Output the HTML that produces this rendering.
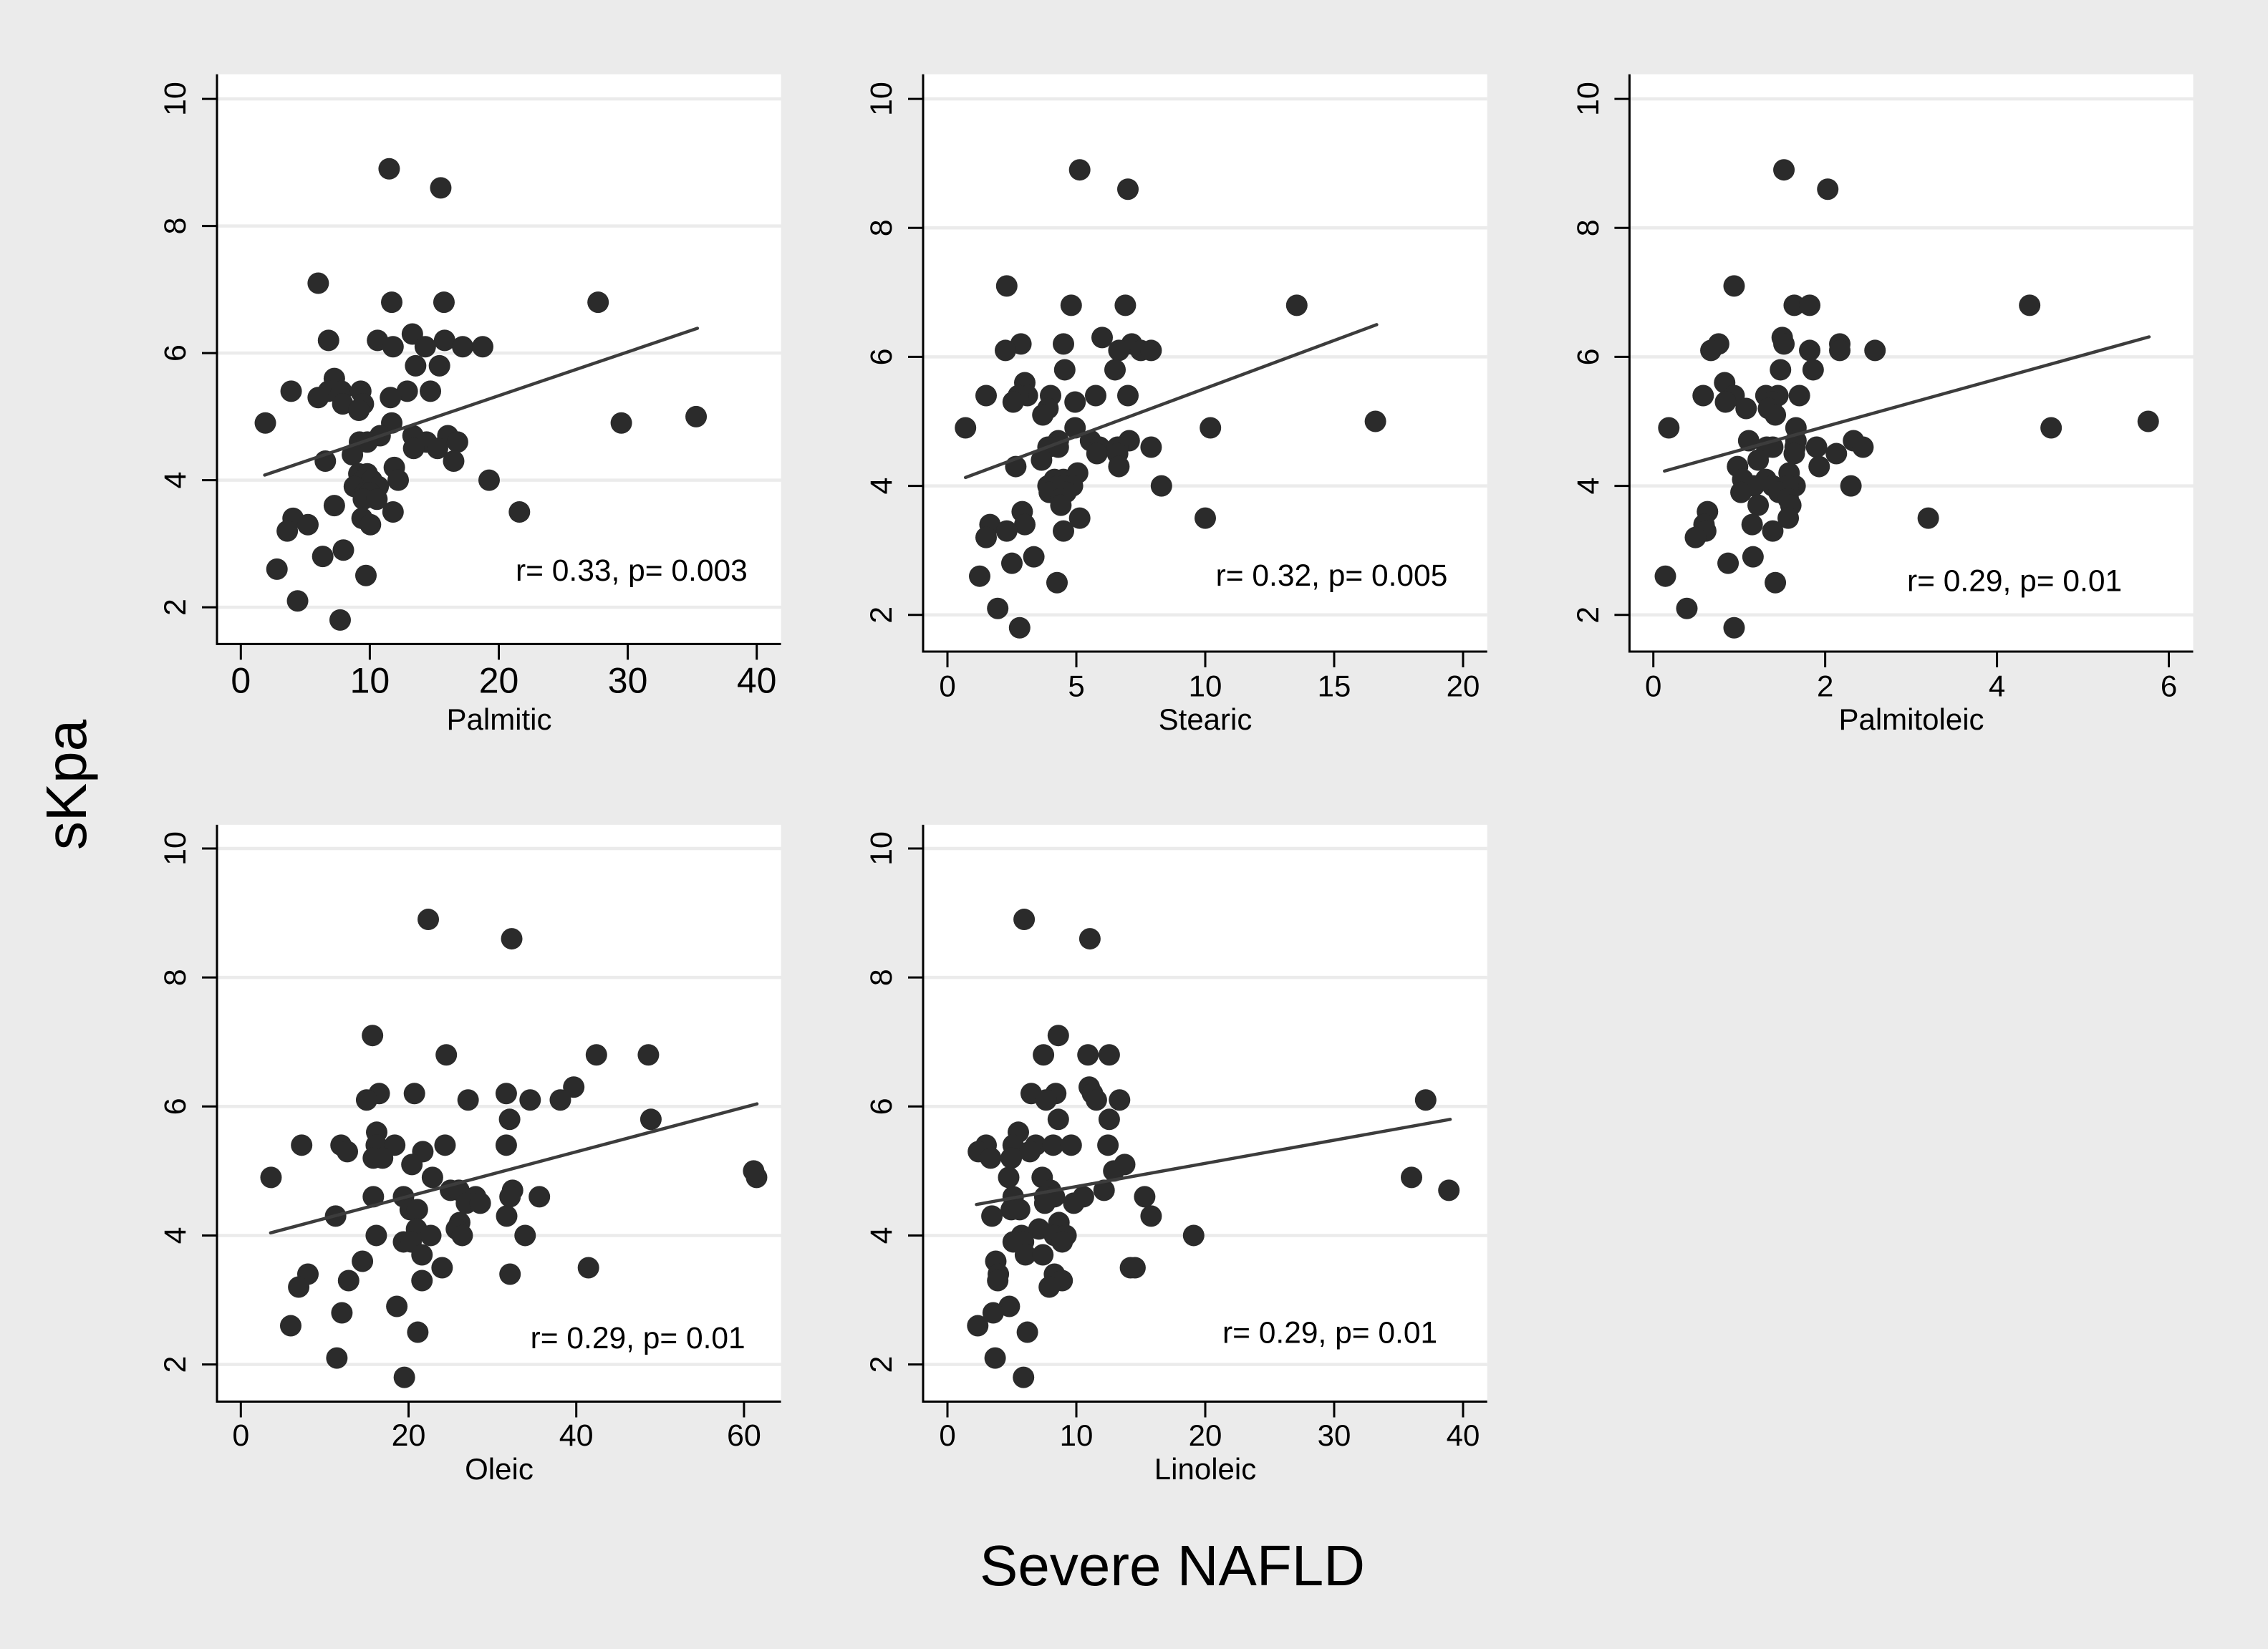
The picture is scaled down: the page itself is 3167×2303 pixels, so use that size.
<!DOCTYPE html>
<html lang="en">
<head>
<meta charset="utf-8">
<title>sKpa vs Severe NAFLD fatty acids</title>
<style>
html,body{margin:0;padding:0;background:#ebebeb;}
svg{display:block;font-family:"Liberation Sans",Arial,sans-serif;}
</style>
</head>
<body>
<svg id="chart" xmlns="http://www.w3.org/2000/svg" width="3167" height="2303" viewBox="0 0 3167 2303">
<rect x="0" y="0" width="3167" height="2303" fill="#ebebeb"/>
<text transform="translate(120,1096) rotate(-90)" text-anchor="middle" font-size="80" fill="#000">sKpa</text>
<text x="1637" y="2214" text-anchor="middle" font-size="80" fill="#000">Severe NAFLD</text>
</svg>
<script>
var yTickValues = [2, 4, 6, 8, 10];

var palmiticX = [11.5,15.5,6.0,11.7,15.75,27.7,13.3,6.8,10.6,15.8,11.8,14.3,17.2,18.75,13.55,15.4,7.25,3.9,6.8,7.8,9.3,12.9,14.7,6.0,11.6,7.9,9.5,9.15,1.9,11.7,29.5,35.3,10.8,13.35,16.05,9.2,9.8,14.4,16.8,13.4,15.25,8.65,6.55,16.5,11.9,9.15,9.8,19.25,12.2,9.5,10.15,8.8,10.65,9.65,10,9.5,10.55,7.25,11.8,21.6,4.05,9.4,5.2,10.05,3.6,7.95,6.35,2.8,9.7,4.4,7.7];
var palmiticY = [8.9,8.6,7.1,6.8,6.8,6.8,6.3,6.2,6.2,6.2,6.1,6.1,6.1,6.1,5.8,5.8,5.6,5.4,5.4,5.4,5.4,5.4,5.4,5.3,5.3,5.2,5.2,5.1,4.9,4.9,4.9,5.0,4.7,4.7,4.7,4.6,4.6,4.6,4.6,4.5,4.5,4.4,4.3,4.3,4.2,4.1,4.1,4.0,4.0,4.0,4.0,3.9,3.9,3.8,3.8,3.7,3.7,3.6,3.5,3.5,3.4,3.4,3.3,3.3,3.2,2.9,2.8,2.6,2.5,2.1,1.8];
var palmiticFitX = [1.85, 35.4];
var palmiticFitY = [4.08, 6.39];
var palmiticTicks = [0, 10, 20, 30, 40];

var stearicX = [5.13,7.0,2.3,4.8,6.9,13.55,6.0,2.85,4.5,7.15,2.25,6.65,7.5,7.9,4.55,6.5,3.0,1.5,3.1,2.75,4.0,5.75,7.0,2.55,4.95,3.9,3.7,0.7,4.95,10.2,16.6,4.3,5.55,7.05,3.9,4.3,5.9,6.6,7.9,5.8,6.6,3.65,2.65,6.65,5.05,4.15,4.5,3.9,4.3,4.85,8.3,4.5,3.95,4.6,4.4,4.4,2.9,5.13,10.0,1.65,3.0,2.3,4.5,1.5,3.35,2.5,1.25,4.25,1.95,2.8];
var stearicY = [8.9,8.6,7.1,6.8,6.8,6.8,6.3,6.2,6.2,6.2,6.1,6.1,6.1,6.1,5.8,5.8,5.6,5.4,5.4,5.4,5.4,5.4,5.4,5.3,5.3,5.2,5.1,4.9,4.9,4.9,5.0,4.7,4.7,4.7,4.6,4.6,4.6,4.6,4.6,4.5,4.5,4.4,4.3,4.3,4.2,4.1,4.1,4.0,4.0,4.0,4.0,4.0,3.9,3.9,3.8,3.7,3.6,3.5,3.5,3.4,3.4,3.3,3.3,3.2,2.9,2.8,2.6,2.5,2.1,1.8];
var stearicFitX = [0.7, 16.65];
var stearicFitY = [4.13, 6.5];
var stearicTicks = [0, 5, 10, 15, 20];

var palmitoleicX = [1.52,2.03,0.94,1.64,1.82,4.38,1.5,0.76,1.52,2.17,0.67,1.82,2.17,2.58,1.48,1.86,0.83,0.58,0.94,1.31,1.45,1.7,0.84,1.38,1.08,1.34,1.42,0.18,1.66,4.63,5.76,1.11,2.33,1.66,1.32,1.39,1.65,1.9,2.44,1.64,2.13,1.22,0.98,1.93,1.58,1.04,1.31,1.17,1.39,1.65,2.3,1.57,1.02,1.46,1.57,1.22,1.6,0.63,1.57,3.2,0.59,1.15,0.61,1.39,0.49,1.16,0.87,0.14,1.42,0.39,0.94];
var palmitoleicY = [8.9,8.6,7.1,6.8,6.8,6.8,6.3,6.2,6.2,6.2,6.1,6.1,6.1,6.1,5.8,5.8,5.6,5.4,5.4,5.4,5.4,5.4,5.3,5.3,5.2,5.2,5.1,4.9,4.9,4.9,5.0,4.7,4.7,4.7,4.6,4.6,4.6,4.6,4.6,4.5,4.5,4.4,4.3,4.3,4.2,4.1,4.1,4.0,4.0,4.0,4.0,4.0,3.9,3.9,3.8,3.7,3.7,3.6,3.5,3.5,3.4,3.4,3.3,3.3,3.2,2.9,2.8,2.6,2.5,2.1,1.8];
var palmitoleicFitX = [0.13, 5.77];
var palmitoleicFitY = [4.23, 6.31];
var palmitoleicTicks = [0, 2, 4, 6];

var oleicX = [22.35,32.3,15.7,24.5,42.4,48.6,39.7,16.5,20.7,31.65,15,27.1,34.5,38.1,32.05,48.9,16.2,7.25,11.95,16.15,18.35,24.35,31.65,12.7,21.7,15.8,16.9,20.4,3.6,22.85,61.5,61.15,25,26,32.4,15.8,19.4,28,32.1,35.6,26.9,28.55,20.2,21.05,11.3,31.7,26.1,20.95,25.7,16.15,22.65,26.4,33.9,19.4,20.3,21.6,14.5,24,41.45,8,32.1,12.85,21.6,6.9,18.6,12.05,5.95,21.1,11.45,19.5];
var oleicY = [8.9,8.6,7.1,6.8,6.8,6.8,6.3,6.2,6.2,6.2,6.1,6.1,6.1,6.1,5.8,5.8,5.6,5.4,5.4,5.4,5.4,5.4,5.4,5.3,5.3,5.2,5.2,5.1,4.9,4.9,4.9,5.0,4.7,4.7,4.7,4.6,4.6,4.6,4.6,4.6,4.5,4.5,4.4,4.4,4.3,4.3,4.2,4.1,4.1,4.0,4.0,4.0,4.0,3.9,3.9,3.7,3.6,3.5,3.5,3.4,3.4,3.3,3.3,3.2,2.9,2.8,2.6,2.5,2.1,1.8];
var oleicFitX = [3.55, 61.55];
var oleicFitY = [4.04, 6.04];
var oleicTicks = [0, 20, 40, 60];

var linoleicX = [5.95,11.05,8.6,7.45,10.9,12.55,11,6.5,8.4,11.25,7.65,11.55,13.35,37.1,8.6,12.55,5.5,3,5.1,6.85,8.2,9.6,12.45,2.4,6.4,3.35,4.95,13.75,12.9,4.75,7.35,36,38.9,8,12.15,5.1,7.55,8.3,10.55,15.3,7.55,9.8,4.95,5.6,3.45,15.8,8.65,7.1,5.75,8.3,9.2,19.1,5.1,5.9,8.9,6.05,7.4,3.75,14.2,14.55,3.95,8.3,3.9,8.9,7.9,4.8,3.55,2.35,6.2,3.7,5.9];
var linoleicY = [8.9,8.6,7.1,6.8,6.8,6.8,6.3,6.2,6.2,6.2,6.1,6.1,6.1,6.1,5.8,5.8,5.6,5.4,5.4,5.4,5.4,5.4,5.4,5.3,5.3,5.2,5.2,5.1,5.0,4.9,4.9,4.9,4.7,4.7,4.7,4.6,4.6,4.6,4.6,4.6,4.5,4.5,4.4,4.4,4.3,4.3,4.2,4.1,4.0,4.0,4.0,4.0,3.9,3.9,3.9,3.7,3.7,3.6,3.5,3.5,3.4,3.4,3.3,3.3,3.2,2.9,2.8,2.6,2.5,2.1,1.8];
var linoleicFitX = [2.25, 39];
var linoleicFitY = [4.48, 5.8];
var linoleicTicks = [0, 10, 20, 30, 40];

var NS = 'http://www.w3.org/2000/svg';
var svg = document.getElementById('chart');

function make(tag, attrs, parent) {
  var el = document.createElementNS(NS, tag);
  for (var k in attrs) el.setAttribute(k, attrs[k]);
  parent.appendChild(el);
  return el;
}

var panels = [
  {key:'palmitic', title:'Palmitic', note:'r= 0.33, p= 0.003', xs:palmiticX, ys:palmiticY, fx:palmiticFitX, fy:palmiticFitY, ticks:palmiticTicks,
   left:303, right:1090.6, top:103.75, bottom:899.4, x0:336.3, xUnit:18.01, y2:848.1, yUnit:88.75,
   tickFont:50, tickBase:967.5, yLabelX:259, titleX:697, titleY:1019, noteX:720, noteY:811},
  {key:'stearic', title:'Stearic', note:'r= 0.32, p= 0.005', xs:stearicX, ys:stearicY, fx:stearicFitX, fy:stearicFitY, ticks:stearicTicks,
   left:1289, right:2076.7, top:103.75, bottom:910, x0:1323, xUnit:36, y2:858.75, yUnit:90.08,
   tickFont:42, tickBase:972.5, yLabelX:1245, titleX:1683, titleY:1019, noteX:1697.6, noteY:818},
  {key:'palmitoleic', title:'Palmitoleic', note:'r= 0.29, p= 0.01', xs:palmitoleicX, ys:palmitoleicY, fx:palmitoleicFitX, fy:palmitoleicFitY, ticks:palmitoleicTicks,
   left:2275.4, right:3062.5, top:103.75, bottom:910, x0:2308.7, xUnit:119.97, y2:858.75, yUnit:90.08,
   tickFont:42, tickBase:972.5, yLabelX:2232, titleX:2669, titleY:1019, noteX:2663, noteY:825.6},
  {key:'oleic', title:'Oleic', note:'r= 0.29, p= 0.01', xs:oleicX, ys:oleicY, fx:oleicFitX, fy:oleicFitY, ticks:oleicTicks,
   left:303, right:1090.6, top:1151.9, bottom:1957.5, x0:336.3, xUnit:11.71, y2:1905.6, yUnit:90.08,
   tickFont:43, tickBase:2019, yLabelX:259, titleX:697, titleY:2066, noteX:740.6, noteY:1883},
  {key:'linoleic', title:'Linoleic', note:'r= 0.29, p= 0.01', xs:linoleicX, ys:linoleicY, fx:linoleicFitX, fy:linoleicFitY, ticks:linoleicTicks,
   left:1289, right:2076.7, top:1151.9, bottom:1957.5, x0:1323, xUnit:18.0, y2:1905.6, yUnit:90.08,
   tickFont:42, tickBase:2019, yLabelX:1245, titleX:1683, titleY:2066, noteX:1707, noteY:1875.6}
];

function drawPanel(p) {
  var sx = function (v) { return p.x0 + v * p.xUnit; };
  var sy = function (v) { return p.y2 - (v - 2) * p.yUnit; };

  var g = make('g', {}, svg);
  
  

  var bg = make('rect', {x:p.left, y:p.top, width:p.right - p.left, height:p.bottom - p.top, fill:'#ffffff'}, g);
  
  

  yTickValues.forEach(function (v) {
    var y = sy(v);
    var grid = make('line', {x1:p.left, x2:p.right, y1:y, y2:y, stroke:'#ebebeb', 'stroke-width':4.5}, g);
    
    
    var tick = make('line', {x1:p.left - 21, x2:p.left, y1:y, y2:y, stroke:'#000', 'stroke-width':3}, g);
    
    
    var lab = make('text', {transform:'translate(' + p.yLabelX + ',' + y + ') rotate(-90)', 'text-anchor':'middle', 'font-size':43, fill:'#000'}, g);
    
    
    lab.textContent = String(v);
  });

  p.xs.forEach(function (v, i) {
    var c = make('circle', {cx:sx(v), cy:sy(p.ys[i]), r:15, fill:'#2b2b2b'}, g);
    
    
  });

  var fit = make('line', {x1:sx(p.fx[0]), y1:sy(p.fy[0]), x2:sx(p.fx[1]), y2:sy(p.fy[1]), stroke:'#3c3c3c', 'stroke-width':4.5, 'stroke-linecap':'round'}, g);
  
  

  var yAxis = make('line', {x1:p.left, x2:p.left, y1:p.top, y2:p.bottom + 1.5, stroke:'#000', 'stroke-width':3}, g);
  
  
  var xAxis = make('line', {x1:p.left, x2:p.right, y1:p.bottom, y2:p.bottom, stroke:'#000', 'stroke-width':3}, g);
  
  

  p.ticks.forEach(function (v) {
    var x = sx(v);
    var tick = make('line', {x1:x, x2:x, y1:p.bottom, y2:p.bottom + 22, stroke:'#000', 'stroke-width':3}, g);
    
    
    var lab = make('text', {x:x, y:p.tickBase, 'text-anchor':'middle', 'font-size':p.tickFont, fill:'#000'}, g);
    
    
    lab.textContent = String(v);
  });

  var title = make('text', {x:p.titleX, y:p.titleY, 'text-anchor':'middle', 'font-size':42, fill:'#000'}, g);
  
  
  title.textContent = p.title;

  var note = make('text', {x:p.noteX, y:p.noteY, 'font-size':42.5, fill:'#000'}, g);
  
  
  note.textContent = p.note;
}

panels.forEach(drawPanel);
</script>
</body>
</html>
